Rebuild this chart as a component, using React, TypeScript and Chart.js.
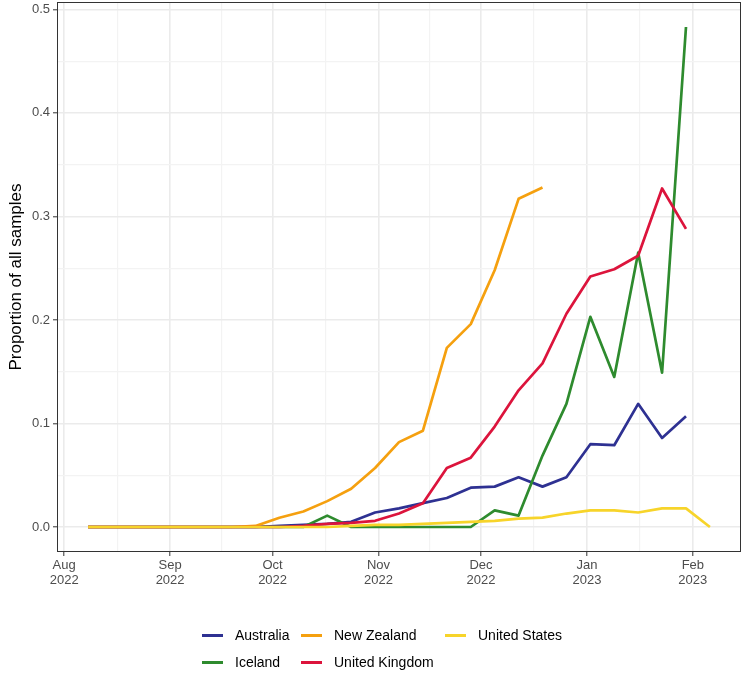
import React, { useEffect, useRef } from 'react';
import { Chart, registerables } from 'chart.js';

Chart.register(...registerables);

// ---------- data ----------
const weeks = [
  '2022-08-08', '2022-08-15', '2022-08-22', '2022-08-29', '2022-09-05', '2022-09-12', '2022-09-19',
  '2022-09-26', '2022-10-03', '2022-10-10', '2022-10-17', '2022-10-24', '2022-10-31', '2022-11-07',
  '2022-11-14', '2022-11-21', '2022-11-28', '2022-12-05', '2022-12-12', '2022-12-19', '2022-12-26',
  '2023-01-02', '2023-01-09', '2023-01-16', '2023-01-23', '2023-01-30', '2023-02-06',
];

const australia = [0, 0, 0, 0, 0, 0, 0, 0, 0.001, 0.002, 0.003, 0.005, 0.014, 0.018, 0.023, 0.028, 0.038, 0.039, 0.048, 0.039, 0.048, 0.080, 0.079, 0.119, 0.086, 0.107, null];
const iceland = [0, 0, 0, 0, 0, 0, 0, 0, 0, 0, 0.011, 0, 0, 0, 0, 0, 0, 0.016, 0.011, 0.069, 0.119, 0.203, 0.145, 0.265, 0.149, 0.483, null];
const newZealand = [0, 0, 0, 0, 0, 0, 0, 0.001, 0.009, 0.015, 0.025, 0.037, 0.057, 0.082, 0.093, 0.173, 0.196, 0.248, 0.317, 0.328, null, null, null, null, null, null, null];
const unitedKingdom = [0, 0, 0, 0, 0, 0, 0, 0, 0, 0.001, 0.003, 0.004, 0.006, 0.013, 0.023, 0.057, 0.067, 0.097, 0.132, 0.158, 0.206, 0.242, 0.249, 0.262, 0.327, 0.288, null];
const unitedStates = [0, 0, 0, 0, 0, 0, 0, 0, 0, 0, 0, 0.001, 0.002, 0.002, 0.003, 0.004, 0.005, 0.006, 0.008, 0.009, 0.013, 0.016, 0.016, 0.014, 0.018, 0.018, 0];

const seriesNames = ['Australia', 'Iceland', 'New Zealand', 'United Kingdom', 'United States'];
const seriesColors = ['#2E3192', '#2E8B2E', '#F5A00F', '#DC143C', '#F7D42A'];
const seriesValues = [australia, iceland, newZealand, unitedKingdom, unitedStates];

const monthTicks = ['2022-08-01', '2022-09-01', '2022-10-01', '2022-11-01', '2022-12-01', '2023-01-01', '2023-02-01'];
const monthLabels = [['Aug', '2022'], ['Sep', '2022'], ['Oct', '2022'], ['Nov', '2022'], ['Dec', '2022'], ['Jan', '2023'], ['Feb', '2023']];

const yTicks = [0, 0.1, 0.2, 0.3, 0.4, 0.5];
const yTickLabels = ['0.0', '0.1', '0.2', '0.3', '0.4', '0.5'];
const yTitle = 'Proportion of all samples';

// legend layout (ggplot column-major order)
const legendOrder = [
  { idx: 0, col: 0, row: 0 },
  { idx: 1, col: 0, row: 1 },
  { idx: 2, col: 1, row: 0 },
  { idx: 3, col: 1, row: 1 },
  { idx: 4, col: 2, row: 0 },
];

// ---------- helpers ----------
const ORIGIN = Date.UTC(2022, 7, 1);
const dayOf = (s: string) => (Date.parse(s + 'T00:00:00Z') - ORIGIN) / 86400000;

const FONT = '"Liberation Sans", Arial, Helvetica, sans-serif';

export default function App() {
  const canvasRef = useRef<HTMLCanvasElement | null>(null);

  useEffect(() => {
    if (!canvasRef.current) return;
    Chart.defaults.font.family = FONT;

    const xs = weeks.map(dayOf);
    const xMinData = Math.min(...xs);
    const xMaxData = Math.max(...xs);
    const xPad = (xMaxData - xMinData) * 0.05;

    const allVals = seriesValues.flat().filter((v) => v !== null) as number[];
    const yMaxData = Math.max(...allVals);
    const yMinData = Math.min(...allVals);
    const yPad = (yMaxData - yMinData) * 0.05;

    const xMajors = monthTicks.map(dayOf);
    const xMinors: number[] = [];
    for (let i = 0; i < xMajors.length - 1; i++) xMinors.push((xMajors[i] + xMajors[i + 1]) / 2);
    const yMinors: number[] = [];
    for (let i = 0; i < yTicks.length - 1; i++) yMinors.push((yTicks[i] + yTicks[i + 1]) / 2);

    const isXMajor = (v: number) => xMajors.some((m) => Math.abs(m - v) < 1e-6);
    const isYMajor = (v: number) => yTicks.some((m) => Math.abs(m - v) < 1e-9);

    const datasets = seriesNames.map((name, i) => ({
      label: name,
      data: xs.map((x, j) => ({ x, y: seriesValues[i][j] })),
      borderColor: seriesColors[i],
      backgroundColor: seriesColors[i],
      borderWidth: 2.7,
      pointRadius: 0,
      pointHoverRadius: 0,
      tension: 0,
      fill: false,
      spanGaps: false,
      borderJoinStyle: 'round' as const,
      borderCapStyle: 'butt' as const,
      order: seriesNames.length - 1 - i,
    }));

    const borderPlugin = {
      id: 'panelBorder',
      afterDatasetsDraw(chart: any) {
        const { ctx, chartArea } = chart;
        ctx.save();
        ctx.strokeStyle = '#333333';
        ctx.lineWidth = 1;
        ctx.strokeRect(
          Math.round(chartArea.left) + 0.5,
          Math.round(chartArea.top) + 0.5,
          Math.round(chartArea.right - chartArea.left) - 1,
          Math.round(chartArea.bottom - chartArea.top) - 1
        );
        ctx.restore();
      },
    };

    const chart = new Chart(canvasRef.current, {
      type: 'line',
      data: { datasets },
      plugins: [borderPlugin],
      options: {
        animation: false,
        responsive: false,
        parsing: false as any,
        normalized: true,
        layout: { padding: { top: 2, right: 9, bottom: 91, left: 0 } },
        plugins: {
          legend: { display: false },
          tooltip: { enabled: false },
        },
        scales: {
          x: {
            type: 'linear',
            min: xMinData - xPad,
            max: xMaxData + xPad,
            afterBuildTicks: (s: any) => {
              const vals = [...xMajors, ...xMinors].sort((a, b) => a - b);
              s.ticks = vals.map((v) => ({ value: v }));
            },
            afterFit: (s: any) => {
              s.height = 48;
              s.paddingLeft = 0;
              s.paddingRight = 0;
            },
            ticks: {
              autoSkip: false,
              maxRotation: 0,
              minRotation: 0,
              padding: 2,
              color: '#4D4D4D',
              font: { size: 13, family: FONT, lineHeight: 1.15 },
              callback: (v: any) => {
                const k = xMajors.findIndex((m) => Math.abs(m - Number(v)) < 1e-6);
                return k >= 0 ? monthLabels[k] : '';
              },
            },
            grid: {
              color: (c: any) => (c.tick && isXMajor(c.tick.value) ? '#EBEBEB' : '#F3F3F3'),
              lineWidth: (c: any) => (c.tick && isXMajor(c.tick.value) ? 1.6 : 1.2),
              tickColor: (c: any) => (c.tick && isXMajor(c.tick.value) ? '#333333' : 'rgba(0,0,0,0)'),
              tickLength: 4,
              tickWidth: 1,
              drawTicks: true,
            },
            border: { display: false },
          },
          y: {
            type: 'linear',
            min: yMinData - yPad,
            max: yMaxData + yPad,
            afterBuildTicks: (s: any) => {
              const vals = [...yTicks, ...yMinors].sort((a, b) => a - b);
              s.ticks = vals.map((v) => ({ value: v }));
            },
            afterFit: (s: any) => {
              s.width = 57;
              s.paddingTop = 0;
              s.paddingBottom = 0;
            },
            ticks: {
              autoSkip: false,
              padding: 3,
              color: '#4D4D4D',
              font: { size: 13, family: FONT },
              callback: (v: any) => {
                const k = yTicks.findIndex((m) => Math.abs(m - Number(v)) < 1e-9);
                return k >= 0 ? yTickLabels[k] : '';
              },
            },
            grid: {
              color: (c: any) => (c.tick && isYMajor(c.tick.value) ? '#EBEBEB' : '#F3F3F3'),
              lineWidth: (c: any) => (c.tick && isYMajor(c.tick.value) ? 1.6 : 1.2),
              tickColor: (c: any) => (c.tick && isYMajor(c.tick.value) ? '#333333' : 'rgba(0,0,0,0)'),
              tickLength: 4,
              tickWidth: 1,
              drawTicks: true,
            },
            border: { display: false },
            title: {
              display: true,
              text: yTitle,
              color: '#000000',
              font: { size: 17, family: FONT },
              padding: { top: 6, bottom: 0 },
            },
          },
        },
      },
    });

    return () => chart.destroy();
  }, []);

  const colX = [202, 301, 445];
  const rowY = [635, 662];

  return (
    <div style={{ position: 'absolute', left: 0, top: 0, width: 750, height: 691, background: '#ffffff', overflow: 'hidden' }}>
      <canvas ref={canvasRef} width={750} height={691} style={{ display: 'block', width: 750, height: 691 }} />
      {legendOrder.map(({ idx, col, row }) => (
        <div
          key={seriesNames[idx]}
          style={{
            position: 'absolute',
            left: colX[col],
            top: rowY[row] - 10,
            height: 20,
            display: 'flex',
            alignItems: 'center',
            fontFamily: FONT,
            fontSize: 14,
            color: '#000000',
            whiteSpace: 'nowrap',
          }}
        >
          <span style={{ display: 'inline-block', width: 21, height: 3, background: seriesColors[idx], marginRight: 12 }} />
          <span>{seriesNames[idx]}</span>
        </div>
      ))}
    </div>
  );
}
